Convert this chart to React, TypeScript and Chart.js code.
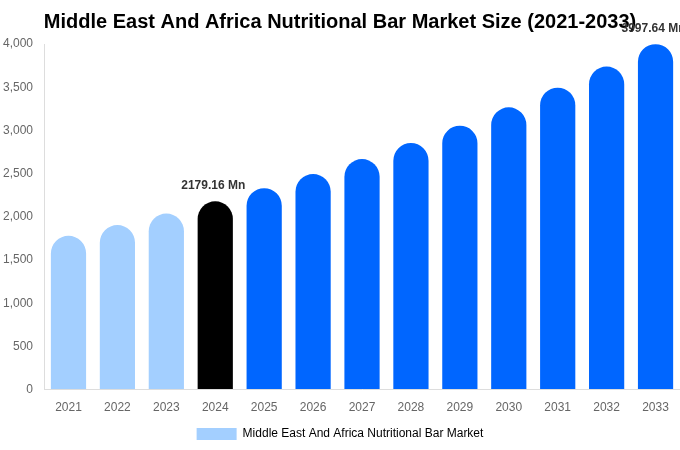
import React, { useEffect, useRef } from "react";
import { Chart, registerables } from "chart.js";

Chart.register(...registerables);

const years = ["2021", "2022", "2023", "2024", "2025", "2026", "2027", "2028", "2029", "2030", "2031", "2032", "2033"];
const marketSize = [1780, 1904, 2037, 2179.16, 2331, 2494, 2668, 2854, 3054, 3267, 3495, 3739, 3997.64];
const barColors = ["#a3cfff", "#a3cfff", "#a3cfff", "#000000", "#0066ff", "#0066ff", "#0066ff", "#0066ff", "#0066ff", "#0066ff", "#0066ff", "#0066ff", "#0066ff"];
const labelledIndexes = [3, 12];
const seriesName = "Middle East And Africa Nutritional Bar Market";
const titleText = "Middle East And Africa Nutritional Bar Market Size (2021-2033)";
const FONT = "'Liberation Sans', Arial, sans-serif";

const valueLabelPlugin = {
  id: "valueLabels",
  afterDatasetsDraw(chart: any) {
    const ctx = chart.ctx;
    const meta = chart.getDatasetMeta(0);
    ctx.save();
    ctx.font = `bold 12px ${FONT}`;
    ctx.fillStyle = "#333333";
    ctx.textAlign = "center";
    ctx.textBaseline = "middle";
    labelledIndexes.forEach((i) => {
      const el = meta.data[i];
      if (!el) return;
      ctx.fillText(`${marketSize[i]} Mn`, el.x - 2, el.y - 16);
    });
    ctx.restore();
  },
};

export default function App() {
  const ref = useRef<HTMLCanvasElement | null>(null);
  useEffect(() => {
    if (!ref.current) return;
    const chart = new Chart(ref.current, {
      type: "bar",
      data: {
        labels: years,
        datasets: [
          {
            label: seriesName,
            data: marketSize,
            backgroundColor: barColors,
            borderRadius: 100,
            borderSkipped: "bottom",
          },
        ],
      },
      options: {
        animation: false,
        responsive: false,
        maintainAspectRatio: false,
        layout: { padding: 0 },
        plugins: {
          title: {
            display: true,
            text: titleText,
            color: "#000000",
            font: { family: FONT, size: 20, weight: "bold" },
            padding: { top: 10, bottom: 10 },
          },
          legend: {
            position: "bottom",
            labels: {
              color: "#666666",
              font: { family: FONT, size: 12 },
              boxWidth: 40,
              generateLabels: () => [
                {
                  text: seriesName,
                  fillStyle: "#a3cfff",
                  strokeStyle: "#a3cfff",
                  lineWidth: 0,
                  hidden: false,
                  datasetIndex: 0,
                },
              ],
            },
          },
          tooltip: { enabled: false },
        },
        scales: {
          x: {
            grid: { display: true, drawOnChartArea: false, drawTicks: true, tickColor: "rgba(0,0,0,0)" },
            border: { display: true, color: "#dddddd" },
            ticks: { color: "#666666", font: { family: FONT, size: 12 } },
          },
          y: {
            min: 0,
            max: 4000,
            grid: { display: true, drawOnChartArea: false, drawTicks: true, tickColor: "rgba(0,0,0,0)" },
            border: { display: true, color: "#dddddd" },
            ticks: { stepSize: 500, color: "#666666", font: { family: FONT, size: 12 } },
          },
        },
      },
      plugins: [valueLabelPlugin],
    });
    return () => chart.destroy();
  }, []);
  return (
    <div style={{ position: "absolute", left: 0, top: 0, width: 680, height: 450, background: "#ffffff" }}>
      <canvas ref={ref} width={680} height={450} style={{ width: 680, height: 450 }} />
    </div>
  );
}
